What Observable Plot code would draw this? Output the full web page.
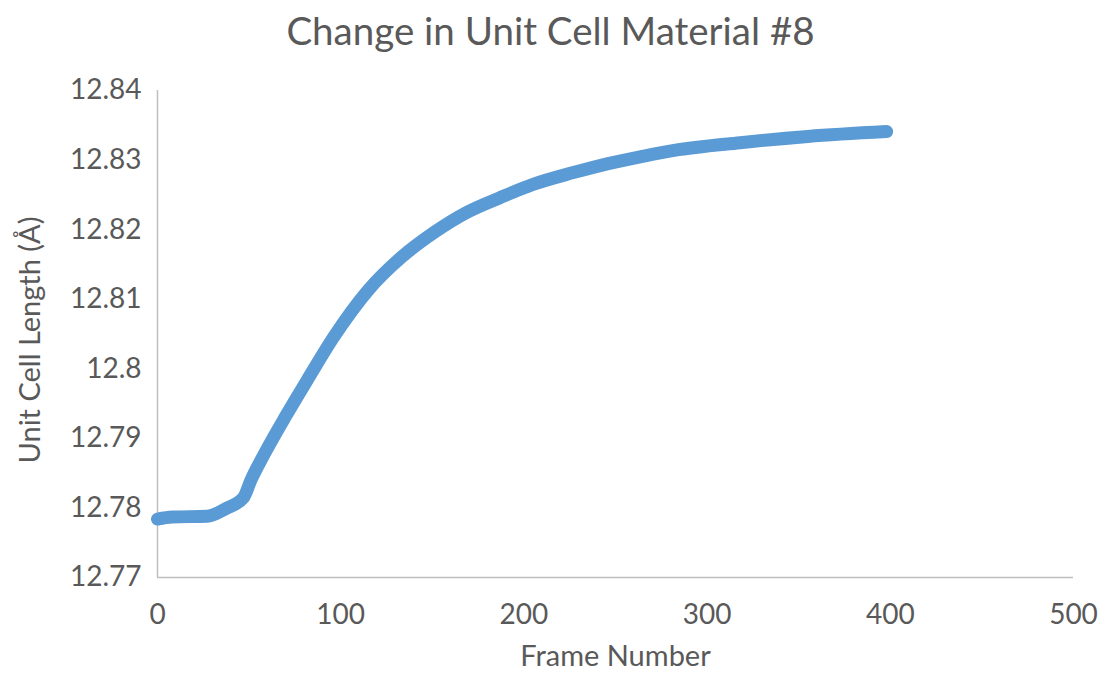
<!DOCTYPE html>
<html>
<head>
<meta charset="utf-8">
<script src="https://cdn.jsdelivr.net/npm/d3@7"></script>
<script src="https://cdn.jsdelivr.net/npm/@observablehq/plot@0.6"></script>
<style>
  html, body { margin: 0; padding: 0; background: #fff; }
  #title {
    width: 1101px; height: 70px; line-height: 60px;
    text-align: center; font-family: Lato, "Open Sans", sans-serif;
    font-size: 38.5px; color: #595959;
  }
</style>
</head>
<body>
<div id="title">Change in Unit Cell Material #8</div>
<div id="chart"></div>
<script>
// Unit cell length (Å) per frame
const frames = [0, 8, 27, 38, 47, 51, 58, 70, 82, 96, 115, 133, 151, 169, 187, 205, 227, 246, 264, 282, 318, 355, 398];
const lengths = [12.7784, 12.7787, 12.7788, 12.7800, 12.7815, 12.7840, 12.7876, 12.7932, 12.7985, 12.8045, 12.8113, 12.8160, 12.8196, 12.8225, 12.8246, 12.8265, 12.8282, 12.8295, 12.8305, 12.8314, 12.8325, 12.8334, 12.8341];

const xTicks = [0, 100, 200, 300, 400, 500];
const yTicks = [12.77, 12.78, 12.79, 12.80, 12.81, 12.82, 12.83, 12.84];
const yTickLabels = ["12.77", "12.78", "12.79", "12.8", "12.81", "12.82", "12.83", "12.84"];

const data = frames.map((f, i) => ({frame: f, length: lengths[i]}));
const axisColor = "#bfbfbf";
const textColor = "#595959";
const yFormat = d => yTickLabels[yTicks.findIndex(t => Math.abs(t - d) < 1e-9)];

const chart = Plot.plot({
  width: 1101,
  height: 607,
  marginTop: 20,
  marginBottom: 100,
  marginLeft: 157,
  marginRight: 28,
  style: {fontFamily: "Lato, 'Open Sans', sans-serif", color: textColor, background: "#fff"},
  x: {domain: [0, 500], label: null},
  y: {domain: [12.77, 12.84], label: null},
  marks: [
    Plot.axisX({ticks: xTicks, tickSize: 0, tickPadding: 27, fill: textColor, fontSize: 28, label: null}),
    Plot.axisY({ticks: yTicks, tickSize: 0, tickPadding: 16, fill: textColor, fontSize: 28, label: null,
      tickFormat: yFormat}),
    Plot.ruleX([0], {stroke: axisColor, strokeWidth: 1.5}),
    Plot.ruleY([12.77], {stroke: axisColor, strokeWidth: 1.5}),
    Plot.line(data, {x: "frame", y: "length", stroke: "#5b9bd5", strokeWidth: 13,
      strokeLinecap: "round", strokeLinejoin: "round", curve: "monotone-x"}),
    Plot.text(["Frame Number"], {frameAnchor: "bottom", dy: 88, fill: textColor, fontSize: 29}),
    Plot.text(["Unit Cell Length (Å)"], {frameAnchor: "left", dx: -127, dy: 6, rotate: -90,
      textAnchor: "middle", fill: textColor, fontSize: 29})
  ]
});
document.getElementById("chart").appendChild(chart);
</script>
</body>
</html>
